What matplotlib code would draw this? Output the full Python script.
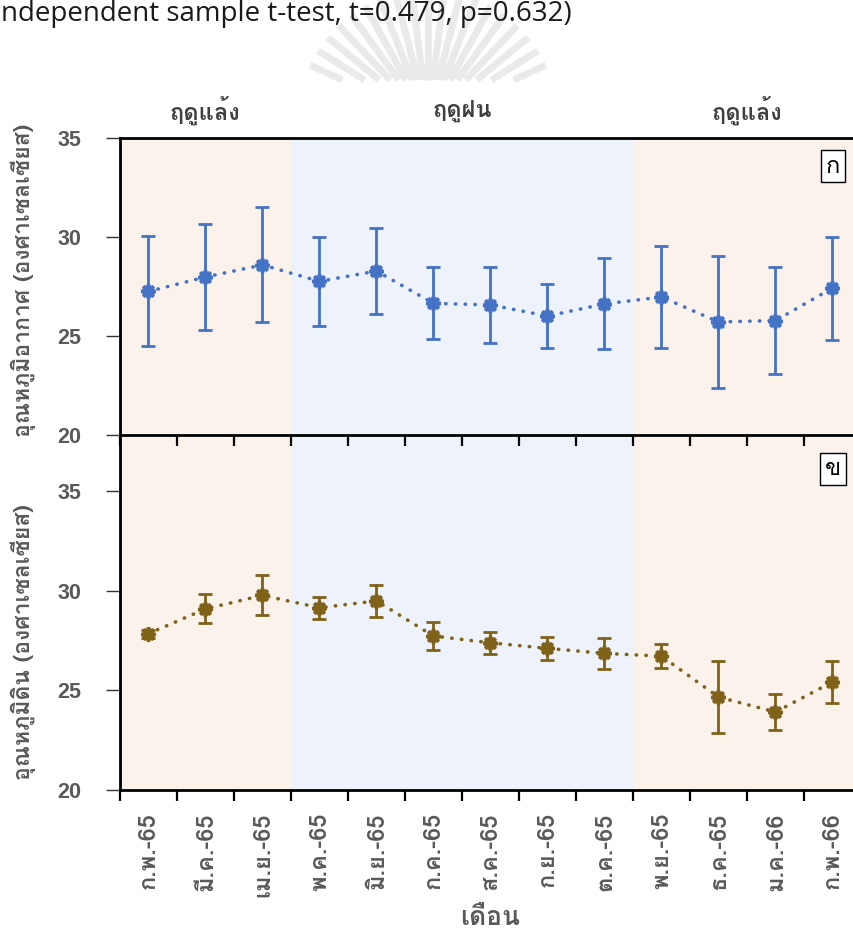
import numpy as np
import matplotlib
matplotlib.use("Agg")
import matplotlib.pyplot as plt
from matplotlib.lines import Line2D
from matplotlib import font_manager
from fontTools.ttLib import TTFont

# ---------------------------------------------------------------------------
# Data: monthly mean +/- SD of air and soil temperature
# ---------------------------------------------------------------------------
MONTHS = ["ก.พ.-65", "มี.ค.-65", "เม.ย.-65", "พ.ค.-65", "มิ.ย.-65", "ก.ค.-65",
          "ส.ค.-65", "ก.ย.-65", "ต.ค.-65", "พ.ย.-65", "ธ.ค.-65", "ม.ค.-66",
          "ก.พ.-66"]

AIR_MEAN = [27.25, 27.98, 28.59, 27.76, 28.28, 26.65, 26.57, 26.01, 26.62,
            26.97, 25.71, 25.78, 27.42]
AIR_SD = [2.78, 2.68, 2.90, 2.23, 2.15, 1.81, 1.93, 1.62, 2.30,
          2.58, 3.34, 2.70, 2.60]

SOIL_MEAN = [27.84, 29.08, 29.76, 29.14, 29.48, 27.72, 27.38, 27.10, 26.85,
             26.71, 24.66, 23.91, 25.42]
SOIL_SD = [0.20, 0.73, 1.00, 0.55, 0.82, 0.69, 0.55, 0.56, 0.79,
           0.60, 1.82, 0.90, 1.05]

SEASONS = ["ฤดูแล้ง", "ฤดูฝน", "ฤดูแล้ง"]
SEASON_START = [0, 3, 9]
SEASON_END = [3, 9, 13]

YTICKS = [20, 25, 30, 35]

# ---------------------------------------------------------------------------
# Fonts: find an installed family that has Thai glyphs
# ---------------------------------------------------------------------------
def thai_family():
    for f in font_manager.fontManager.ttflist:
        try:
            cmap = TTFont(f.fname, fontNumber=0, lazy=True).getBestCmap()
        except Exception:
            continue
        if cmap and 0x0E01 in cmap and 0x0E39 in cmap:
            return f.name
    return "DejaVu Sans"

THAI = [thai_family(), "DejaVu Sans"]
NUM = ["Liberation Sans", "DejaVu Sans"]
GREY = "#595959"
BLUE = "#4472C4"
BROWN = "#7F6118"
PINK_BG = "#FBF2EC"
BLUE_BG = "#EEF2FA"

W, H = 854, 934
fig = plt.figure(figsize=(W / 100, H / 100), dpi=100)

def px_axes(left, top, right, bottom, **kw):
    return fig.add_axes([left / W, 1 - bottom / H, (right - left) / W, (bottom - top) / H], **kw)

ax_soil = px_axes(120, 435, 861, 790)
ax_air = px_axes(120, 138, 861, 435, zorder=3)

x = np.arange(len(MONTHS)) + 0.5

def style_axes(ax, ylim, show_top):
    for s, e, c in zip(SEASON_START, SEASON_END, [PINK_BG, BLUE_BG, PINK_BG]):
        ax.axvspan(s, e, color=c, lw=0, zorder=0)
    ax.set_xlim(0, len(MONTHS))
    ax.set_ylim(*ylim)
    ax.set_yticks(YTICKS)
    ax.set_yticklabels([str(t) for t in YTICKS], fontsize=15.5, fontweight="bold",
                       color=GREY, family=NUM)
    ax.set_xticks(np.arange(len(MONTHS) + 1))
    ax.set_xticklabels([])
    ax.tick_params(axis="x", which="major", direction="out", length=8, width=1.6,
                   color="black")
    ax.tick_params(axis="y", direction="out", length=10, width=1.0, color="#333333",
                   pad=18)
    ax.spines["right"].set_visible(False)
    ax.spines["top"].set_visible(show_top)
    for sp in ["left", "bottom", "top"]:
        ax.spines[sp].set_linewidth(2.0)
        ax.spines[sp].set_color("black")

style_axes(ax_air, (20, 35), True)
style_axes(ax_soil, (20, 37.8), False)

def draw_series(ax, mean, sd, color):
    ax.errorbar(x, mean, yerr=sd, fmt="none", ecolor=color, elinewidth=2.0,
                capsize=5, capthick=2.0, zorder=3)
    ax.plot(x, mean, color=color, linestyle=(0, (0.1, 2.6)), linewidth=2.6,
            dash_capstyle="round", zorder=4)
    ax.plot(x, mean, linestyle="none", marker=(8, 1, 0), markersize=10,
            color=color, markeredgecolor=color, markeredgewidth=2.5, zorder=5)

draw_series(ax_air, AIR_MEAN, AIR_SD, BLUE)
draw_series(ax_soil, SOIL_MEAN, SOIL_SD, BROWN)

# month labels on the bottom panel, centred between the boundary ticks
ax_soil.set_xticks(x, minor=True)
ax_soil.set_xticklabels(MONTHS, minor=True, rotation=90, fontsize=17,
                        fontweight="bold", color=GREY, family=THAI)
ax_soil.tick_params(axis="x", which="minor", length=0, pad=16)

# panel letters
for ax, letter, ypos in [(ax_air, "ก", 0.905), (ax_soil, "ข", 0.905)]:
    ax.text(0.962, ypos, letter, transform=ax.transAxes, ha="center", va="center",
            fontsize=17, family=THAI, color="black",
            bbox=dict(boxstyle="square,pad=0.2", fc="white", ec="black", lw=1.0))

# season headers above the top panel
for s, e, name in zip(SEASON_START, SEASON_END, SEASONS):
    ax_air.text((s + e) / 2, 1.094, name, transform=ax_air.get_xaxis_transform(),
                ha="center", va="center", fontsize=17, fontweight="bold",
                color="#404040", family=THAI)

# axis titles
fig.text(23 / W, 1 - 280 / H, "อุณหภูมิอากาศ (องศาเซลเซียส)", rotation=90,
         ha="center", va="center", fontsize=16.5, fontweight="bold", color=GREY,
         family=THAI)
fig.text(23 / W, 1 - 642 / H, "อุณหภูมิดิน (องศาเซลเซียส)", rotation=90,
         ha="center", va="center", fontsize=16.5, fontweight="bold", color=GREY,
         family=THAI)
fig.text(490 / W, 1 - 918 / H, "เดือน", ha="center", va="center", fontsize=19,
         fontweight="bold", color=GREY, family=THAI)

# faint sunburst emblem behind the header
cx, cy = 428, 120
for ang in np.linspace(25, 155, 19):
    t = np.radians(ang)
    r0, r1 = 40 / np.sin(t), 130
    if r0 >= r1:
        continue
    xs = [cx + r0 * np.cos(t), cx + r1 * np.cos(t)]
    ys = [cy - r0 * np.sin(t), cy - r1 * np.sin(t)]
    fig.add_artist(Line2D([v / W for v in xs], [1 - v / H for v in ys],
                          color="#EAEAEA", lw=5, solid_capstyle="butt",
                          transform=fig.transFigure, zorder=0))

# caption tail running off the top edge
fig.text(-6 / W, 1 - 21 / H, "independent sample t-test, t=0.479, p=0.632)",
         ha="left", va="baseline", fontsize=20, color="#1a1a1a",
         family=["Open Sans", "DejaVu Sans"])

fig.savefig("out.png", dpi=100)
